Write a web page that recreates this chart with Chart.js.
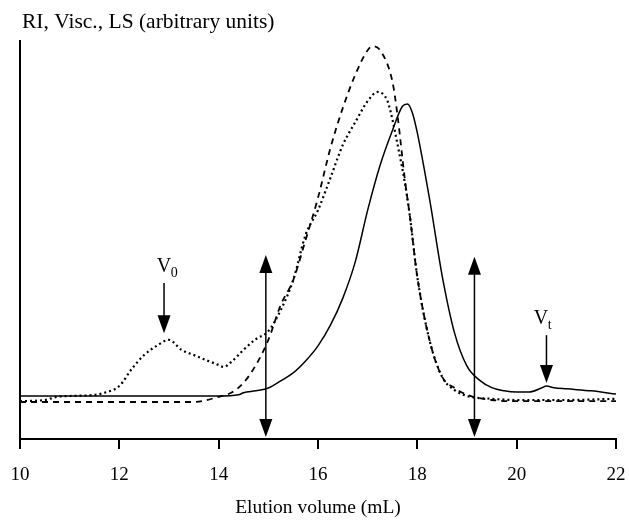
<!DOCTYPE html>
<html><head><meta charset="utf-8">
<script src="https://cdn.jsdelivr.net/npm/chart.js@4.4.0/dist/chart.umd.min.js"></script>
<style>html,body{margin:0;padding:0;background:#fff;}</style>
</head><body>
<canvas id="c" width="629" height="520"></canvas>
<script>
// Solid trace (RI)
const riVolume = [10, 11, 12, 13, 14, 14.4, 14.5, 14.75, 15, 15.25, 15.5, 15.75, 16, 16.25, 16.5, 16.75, 17, 17.25, 17.5, 17.7, 17.8, 17.9, 18, 18.25, 18.5, 18.75, 19, 19.25, 19.5, 19.75, 20, 20.25, 20.5, 20.6, 20.75, 21, 21.5, 22];
const riSignal = [10.8, 10.8, 10.8, 10.8, 10.8, 11.1, 11.6, 12.1, 12.8, 14.6, 16.6, 19.6, 23.4, 28.6, 35.4, 44.5, 57.5, 68.8, 77.6, 83.6, 84.2, 82.0, 76.9, 60.0, 41.0, 26.6, 18.3, 14.8, 12.9, 12.1, 11.8, 11.8, 12.8, 13.3, 12.9, 12.6, 12.1, 11.3];
// Dashed trace (Visc.)
const viscVolume = [10, 11, 12, 13, 13.5, 14, 14.25, 14.5, 14.75, 15, 15.25, 15.5, 15.75, 16, 16.25, 16.5, 16.75, 17, 17.1, 17.25, 17.5, 17.6, 17.75, 17.85, 18, 18.25, 18.5, 18.75, 19, 19.5, 20, 21, 22];
const viscSignal = [9.3, 9.3, 9.3, 9.3, 9.3, 10.6, 11.6, 14.1, 18.6, 24.9, 33.7, 39.9, 50.0, 60.6, 73.1, 83.2, 91.5, 97.7, 98.7, 97.7, 89.7, 81.4, 65.1, 56.0, 40.7, 24.6, 15.6, 12.8, 11.1, 9.8, 9.5, 9.5, 9.5];
// Dotted trace (LS)
const lsVolume = [10, 10.5, 10.75, 11, 11.5, 11.75, 12, 12.25, 12.5, 12.75, 13, 13.25, 13.5, 13.75, 14, 14.1, 14.25, 14.5, 14.75, 15, 15.25, 15.5, 15.75, 16, 16.25, 16.5, 16.75, 17, 17.2, 17.4, 17.5, 17.6, 17.75, 17.85, 18, 18.25, 18.5, 18.75, 19, 19.5, 20, 21, 22];
const lsSignal = [9.5, 9.8, 10.6, 10.8, 11.1, 11.8, 13.3, 17.6, 21.1, 23.4, 24.9, 22.4, 21.1, 19.8, 18.6, 18.1, 19.3, 22.4, 25.1, 27.1, 32.4, 39.9, 51.3, 57.5, 65.6, 73.9, 79.6, 84.9, 87.2, 84.9, 80.2, 74.1, 64.3, 56.0, 40.7, 24.6, 15.6, 12.3, 10.8, 10.1, 9.8, 9.8, 10.1];

const xTickValues = [10, 12, 14, 16, 18, 20, 22];

// Fraction-collection double arrows
const fractionVolumes = [14.95, 19.15];
const fractionTop = [46.2, 45.8];
const fractionBottom = [0.5, 0.5];
// V0 / Vt marker arrows
const markerVolumes = [12.9, 20.6];
const markerTop = [39.2, 26.1];
const markerTip = [26.6, 14.1];
const markerLabelVolumes = [12.9, 20.49];
const markerSubscripts = ['0', 't'];

const FONT = "'Liberation Serif', 'Times New Roman', serif";

function pts(xs, ys) { return xs.map((v, i) => ({x: v, y: ys[i]})); }

const yTitlePlugin = {
  id: 'yTitle',
  afterDraw(chart) {
    const {ctx, chartArea} = chart;
    ctx.save();
    ctx.fillStyle = '#000';
    ctx.font = '21.5px ' + FONT;
    ctx.textAlign = 'left';
    ctx.textBaseline = 'alphabetic';
    ctx.fillText('RI, Visc., LS (arbitrary units)', chartArea.left + 2, chartArea.top - 13);
    ctx.restore();
  }
};

const arrowPlugin = {
  id: 'arrows',
  afterDatasetsDraw(chart) {
    const {ctx} = chart;
    const xs = chart.scales.x, ys = chart.scales.y;
    ctx.save();
    ctx.strokeStyle = '#000';
    ctx.fillStyle = '#000';
    ctx.lineWidth = 1.5;
    const headW = 6.5, headL = 18;
    function head(px, tipY, dir) {
      ctx.beginPath();
      ctx.moveTo(px, tipY);
      ctx.lineTo(px - headW, tipY - dir * headL);
      ctx.lineTo(px + headW, tipY - dir * headL);
      ctx.closePath();
      ctx.fill();
    }
    fractionVolumes.forEach((v, i) => {
      const px = xs.getPixelForValue(v);
      const t = ys.getPixelForValue(fractionTop[i]);
      const b = ys.getPixelForValue(fractionBottom[i]);
      ctx.beginPath();
      ctx.moveTo(px, t + headL - 2);
      ctx.lineTo(px, b - headL + 2);
      ctx.stroke();
      head(px, t, -1);
      head(px, b, 1);
    });
    markerVolumes.forEach((v, i) => {
      const px = xs.getPixelForValue(v);
      const t = ys.getPixelForValue(markerTop[i]);
      const b = ys.getPixelForValue(markerTip[i]);
      ctx.beginPath();
      ctx.moveTo(px, t);
      ctx.lineTo(px, b - headL + 2);
      ctx.stroke();
      head(px, b, 1);
      const lx = xs.getPixelForValue(markerLabelVolumes[i]);
      ctx.font = '20px ' + FONT;
      const wV = ctx.measureText('V').width;
      const base = t - 11;
      ctx.textBaseline = 'alphabetic';
      ctx.textAlign = 'left';
      ctx.fillText('V', lx - wV / 2, base);
      ctx.font = '14px ' + FONT;
      ctx.fillText(markerSubscripts[i], lx + wV / 2 - 0.5, base + 5);
    });
    ctx.restore();
  }
};

new Chart(document.getElementById('c'), {
  type: 'line',
  data: {
    datasets: [
      {label: 'RI', data: pts(riVolume, riSignal), borderColor: '#000', borderWidth: 1.5, cubicInterpolationMode: 'monotone'},
      {label: 'Visc.', data: pts(viscVolume, viscSignal), borderColor: '#000', borderWidth: 1.8, borderDash: [6, 5], cubicInterpolationMode: 'monotone'},
      {label: 'LS', data: pts(lsVolume, lsSignal), borderColor: '#000', borderWidth: 2.2, borderDash: [2, 3], cubicInterpolationMode: 'monotone'}
    ]
  },
  options: {
    responsive: false,
    animation: false,
    layout: {padding: {left: 20, right: 13, top: 41, bottom: 0}},
    elements: {point: {radius: 0}},
    plugins: {
      legend: {display: false},
      tooltip: {enabled: false},
      title: {display: false}
    },
    scales: {
      x: {
        type: 'linear', min: 10, max: 22,
        afterBuildTicks: s => { s.ticks = xTickValues.map(v => ({value: v})); },
        border: {display: true, color: '#000', width: 2},
        grid: {drawOnChartArea: false, drawTicks: true, tickLength: 10, color: '#000', lineWidth: 2},
        ticks: {color: '#000', font: {family: FONT, size: 19}, padding: 15, maxRotation: 0},
        title: {display: true, text: 'Elution volume (mL)', color: '#000', font: {family: FONT, size: 19.5}, padding: {top: 0, bottom: 0}},
        afterFit: s => { s.height = 81; s.paddingLeft = 0; s.paddingRight = 0; }
      },
      y: {
        type: 'linear', min: 0, max: 100,
        ticks: {display: false},
        grid: {display: false},
        border: {display: true, color: '#000', width: 2},
        afterFit: s => { s.width = 0; s.paddingTop = 0; s.paddingBottom = 0; }
      }
    }
  },
  plugins: [arrowPlugin, yTitlePlugin]
});
</script>
</body></html>
